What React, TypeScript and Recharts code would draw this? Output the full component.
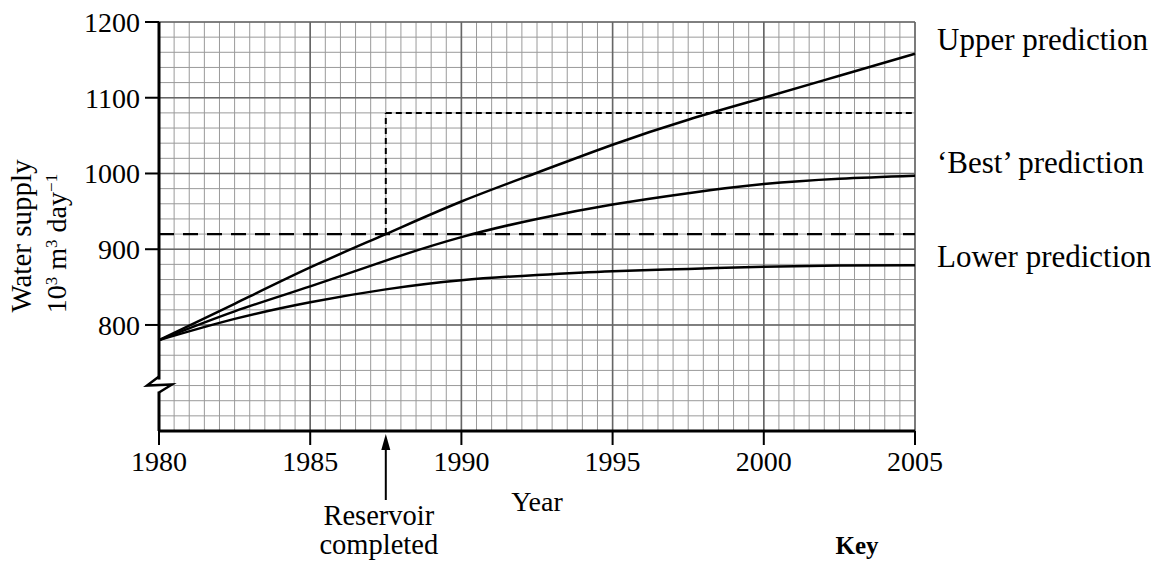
import React from 'react';
import {
  ComposedChart,
  Line,
  XAxis,
  YAxis,
  CartesianGrid,
  ReferenceLine,
  ReferenceDot,
} from 'recharts';

// ---- data ----
const years = [1980, 1982.5, 1985, 1987.5, 1990, 1992.5, 1995, 1997.5, 2000, 2002.5, 2005];
const upperPrediction = [780, 828, 876, 920, 963, 1001, 1038, 1071, 1100, 1129, 1158];
const bestPrediction = [780, 818, 851, 885, 916, 940, 959, 974, 986, 993, 997];
const lowerPrediction = [780, 808, 830, 847, 859, 866, 871, 874, 877, 878.5, 879];

const xTicks = [1980, 1985, 1990, 1995, 2000, 2005];
const yTicks = [800, 900, 1000, 1100, 1200];
const xDomain = [1980, 2005];
const yDomain = [660, 1200];
const axisBreakValue = 720;

const currentSupply = 920;
const reservoirYear = 1987.5;
const reservoirSupply = 1080;

const seriesLabels = ['Upper prediction', '\u2018Best\u2019 prediction', 'Lower prediction'];

// grid spacing (graph paper)
const minorX: number[] = [];
for (let v = xDomain[0]; v <= xDomain[1] + 1e-9; v += 0.5) minorX.push(v);
const minorY: number[] = [];
for (let v = yDomain[0]; v <= yDomain[1] + 1e-9; v += 20) minorY.push(v);

const rows = years.map((year, i) => ({
  year,
  upper: upperPrediction[i],
  best: bestPrediction[i],
  lower: lowerPrediction[i],
}));

const FONT = "'Liberation Serif', 'DejaVu Serif', 'Times New Roman', serif";

const BreakMark = (props: any) => {
  const { cx, cy } = props;
  return (
    <g>
      <rect x={cx - 3} y={cy - 6} width={6} height={12} fill="#fff" />
      <path
        d={`M${cx},${cy - 9} L${cx - 12},${cy} L${cx + 13},${cy - 1} L${cx},${cy + 7}`}
        stroke="#000"
        strokeWidth={2.5}
        fill="none"
      />
    </g>
  );
};

const ReservoirArrow = (props: any) => {
  const { cx, cy } = props;
  return (
    <g>
      <line x1={cx} y1={cy + 14} x2={cx} y2={cy + 69} stroke="#000" strokeWidth={2} />
      <path d={`M${cx},${cy + 3} L${cx - 4.5},${cy + 19} L${cx + 4.5},${cy + 19} Z`} fill="#000" />
      <text x={cx - 7} y={cy + 94} textAnchor="middle" fontSize={28.5} fontFamily={FONT} fill="#000">
        Reservoir
      </text>
      <text x={cx - 7} y={cy + 123} textAnchor="middle" fontSize={28.5} fontFamily={FONT} fill="#000">
        completed
      </text>
    </g>
  );
};

const KeyText = (props: any) => {
  const { cx, cy } = props;
  return (
    <text x={cx - 58} y={cy + 123} textAnchor="middle" fontSize={25} fontWeight="bold" fontFamily={FONT} fill="#000">
      Key
    </text>
  );
};

const makeSeriesLabel = (text: string, dy: number) => (props: any) => {
  const { cx, cy } = props;
  return (
    <text x={cx + 22} y={cy + dy} textAnchor="start" fontSize={31} fontFamily={FONT} fill="#000">
      {text}
    </text>
  );
};

const YLabel = (props: any) => {
  const vb = props.viewBox || { x: 79, y: 22, width: 80, height: 409 };
  const left = vb.x;
  const midY = vb.y + vb.height / 2;
  const sup = { fontSize: 17, baselineShift: 'super' } as any;
  return (
    <g>
      <text
        transform={`translate(${left - 48},${midY + 9.5}) rotate(-90)`}
        textAnchor="middle"
        fontSize={29}
        fontFamily={FONT}
        fill="#000"
      >
        Water supply
      </text>
      <text
        transform={`translate(${left - 13},${midY + 17}) rotate(-90)`}
        textAnchor="middle"
        fontSize={28}
        fontFamily={FONT}
        fill="#000"
      >
        10
        <tspan {...sup}>3</tspan>
        <tspan> m</tspan>
        <tspan {...sup}>3</tspan>
        <tspan> day</tspan>
        <tspan {...sup}>{'\u22121'}</tspan>
      </text>
    </g>
  );
};

export default function App() {
  return (
    <div style={{ position: 'absolute', left: 0, top: 0, background: '#fff' }}>
      <ComposedChart
        width={1151}
        height={562}
        data={rows}
        margin={{ top: 22, right: 236, bottom: 71, left: 79 }}
      >
        <CartesianGrid
          horizontalValues={minorY}
          verticalValues={minorX}
          stroke="#9a9a9a"
          strokeWidth={1}
          fill="none"
        />
        <CartesianGrid
          horizontalValues={yTicks}
          verticalValues={xTicks}
          stroke="#666"
          strokeWidth={1.6}
          fill="none"
        />
        <XAxis
          type="number"
          dataKey="year"
          domain={xDomain}
          ticks={xTicks}
          interval={0}
          height={60}
          tickSize={14}
          tickMargin={6}
          axisLine={{ stroke: '#000', strokeWidth: 3 }}
          tickLine={{ stroke: '#000', strokeWidth: 2 }}
          tick={{ fill: '#000', fontSize: 28, fontFamily: FONT }}
          label={{ value: 'Year', position: 'bottom', offset: 0, fill: '#000', fontSize: 28, fontFamily: FONT }}
        />
        <YAxis
          type="number"
          domain={yDomain}
          ticks={yTicks}
          interval={0}
          width={80}
          tickSize={14}
          tickMargin={5}
          axisLine={{ stroke: '#000', strokeWidth: 3 }}
          tickLine={{ stroke: '#000', strokeWidth: 2 }}
          tick={{ fill: '#000', fontSize: 28, fontFamily: FONT }}
          label={{ content: (p: any) => <YLabel {...p} /> }}
        />
        <ReferenceLine y={currentSupply} stroke="#000" strokeWidth={2.2} strokeDasharray="15 9" ifOverflow="visible" />
        <ReferenceLine
          segment={[
            { x: reservoirYear, y: currentSupply },
            { x: reservoirYear, y: reservoirSupply },
          ]}
          stroke="#000"
          strokeWidth={2}
          strokeDasharray="6 4"
          ifOverflow="visible"
        />
        <ReferenceLine
          segment={[
            { x: reservoirYear, y: reservoirSupply },
            { x: xDomain[1], y: reservoirSupply },
          ]}
          stroke="#000"
          strokeWidth={2}
          strokeDasharray="6 4"
          ifOverflow="visible"
        />
        <Line type="natural" dataKey="upper" stroke="#000" strokeWidth={2.5} dot={false} isAnimationActive={false} />
        <Line type="natural" dataKey="best" stroke="#000" strokeWidth={2.5} dot={false} isAnimationActive={false} />
        <Line type="natural" dataKey="lower" stroke="#000" strokeWidth={2.5} dot={false} isAnimationActive={false} />
        <ReferenceDot x={xDomain[1]} y={upperPrediction[upperPrediction.length - 1]} r={0} ifOverflow="visible" shape={makeSeriesLabel(seriesLabels[0], -4)} />
        <ReferenceDot x={xDomain[1]} y={bestPrediction[bestPrediction.length - 1]} r={0} ifOverflow="visible" shape={makeSeriesLabel(seriesLabels[1], -3)} />
        <ReferenceDot x={xDomain[1]} y={lowerPrediction[lowerPrediction.length - 1]} r={0} ifOverflow="visible" shape={makeSeriesLabel(seriesLabels[2], 2)} />
        <ReferenceDot x={xDomain[0]} y={axisBreakValue} r={0} ifOverflow="visible" shape={BreakMark} />
        <ReferenceDot x={reservoirYear} y={yDomain[0]} r={0} ifOverflow="visible" shape={ReservoirArrow} />
        <ReferenceDot x={xDomain[1]} y={yDomain[0]} r={0} ifOverflow="visible" shape={KeyText} />
      </ComposedChart>
    </div>
  );
}
